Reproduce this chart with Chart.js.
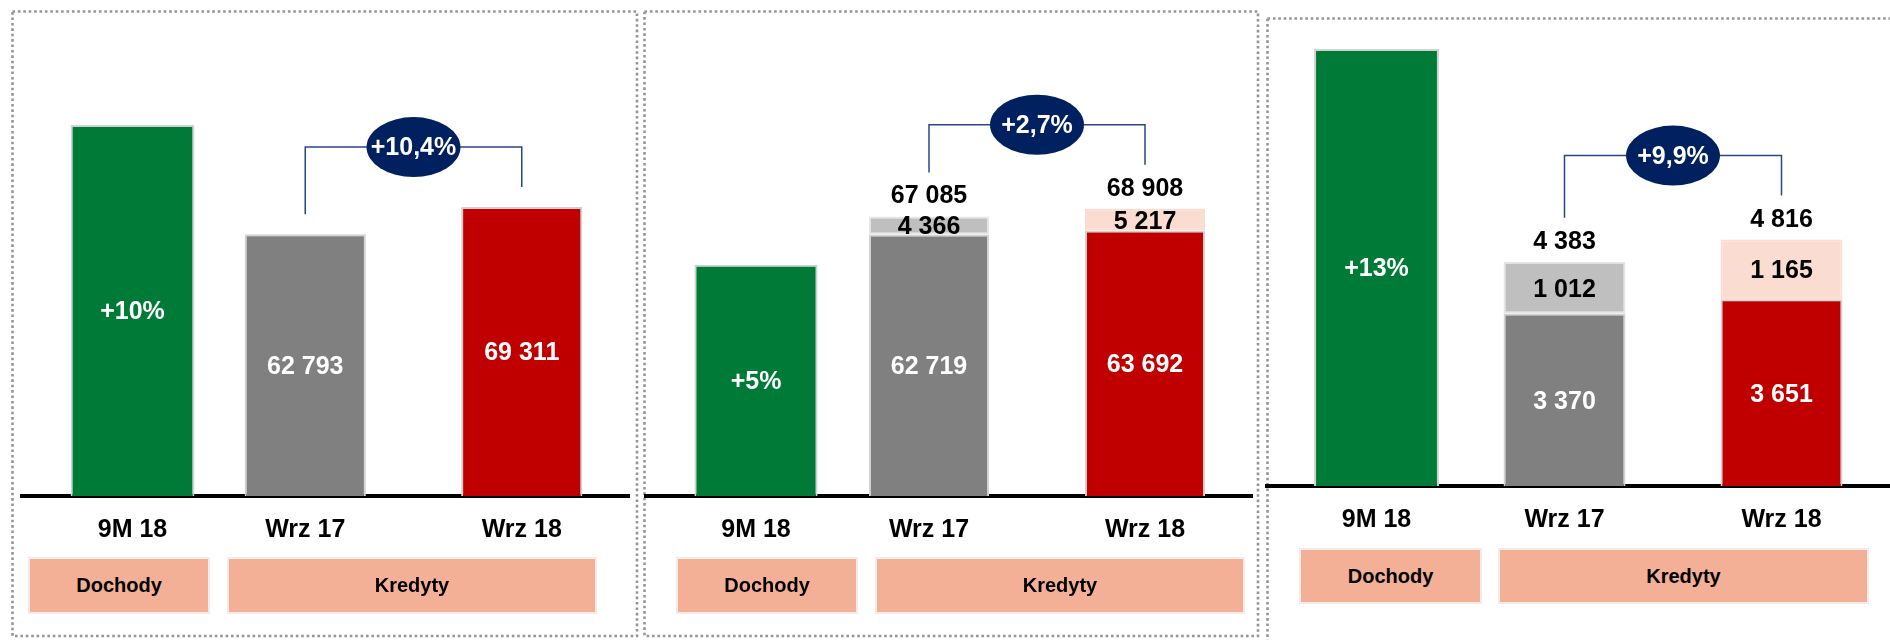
<!DOCTYPE html>
<html>
<head>
<meta charset="utf-8">
<script src="https://cdn.jsdelivr.net/npm/chart.js@4.4.0/dist/chart.umd.min.js"></script>
<style>
body { margin: 0; width: 1890px; height: 640px; position: relative; overflow: hidden; background: #fff;
       font-family: 'Liberation Sans', Arial, sans-serif; }
svg.frames { position: absolute; left: 0; top: 0; }
canvas { position: absolute; top: 0; }
.tag { position: absolute; background: #F4B096; border: 2px solid #f3ebe7; box-sizing: border-box;
       font-weight: bold; font-size: 20px; color: #000; display: flex; align-items: center; justify-content: center; }
</style>
</head>
<body>
<svg class="frames" width="1890" height="640">
  <g fill="none" stroke="#959595" stroke-width="2.6" stroke-dasharray="2.6 2.8">
    <rect x="12.5" y="11.5" width="624.5" height="624.5"/>
    <rect x="644.5" y="11.5" width="613.5" height="624.5"/>
    <rect x="1267.5" y="18.5" width="700" height="700"/>
  </g>
</svg>

<canvas id="a1" width="225" height="640" style="left:20px"></canvas>
<canvas id="b1" width="433" height="640" style="left:197px"></canvas>
<canvas id="a2" width="224" height="640" style="left:644px"></canvas>
<canvas id="b2" width="432" height="640" style="left:821px"></canvas>
<canvas id="a3" width="223" height="640" style="left:1265px"></canvas>
<canvas id="b3" width="434" height="640" style="left:1456px"></canvas>

<div class="tag" style="left:28px;top:557px;width:182px;height:57px">Dochody</div>
<div class="tag" style="left:227px;top:557px;width:370px;height:57px">Kredyty</div>
<div class="tag" style="left:676px;top:557px;width:182px;height:57px">Dochody</div>
<div class="tag" style="left:875px;top:557px;width:370px;height:57px">Kredyty</div>
<div class="tag" style="left:1299px;top:548px;width:183px;height:56px">Dochody</div>
<div class="tag" style="left:1498px;top:548px;width:371px;height:56px">Kredyty</div>

<script>
// categories
const incomeLabels = ['9M 18'];
const loanLabels = ['Wrz 17', 'Wrz 18'];

// panel 1
const p1Income = [89000];
const p1IncomeText = ['+10%'];
const p1Loans = [62793, 69311];
const p1Growth = '+10,4%';

// panel 2
const p2Income = [55500];
const p2IncomeText = ['+5%'];
const p2LoansBase = [62719, 63692];
const p2LoansTop = [4366, 5217];
const p2Totals = [67085, 68908];
const p2Growth = '+2,7%';

// panel 3
const p3Income = [8540];
const p3IncomeText = ['+13%'];
const p3LoansBase = [3370, 3651];
const p3LoansTop = [1012, 1165];
const p3Totals = [4383, 4816];
const p3Growth = '+9,9%';

const FONT = "'Liberation Sans', Arial, sans-serif";
const GREEN = '#007A37', GREY = '#808080', RED = '#C00000';
const LIGHT_GREY = '#BFBFBF', PINK = '#FADCD1', NAVY = '#002060';

const fmt = v => String(v).replace(/\B(?=(\d{3})+(?!\d))/g, ' ');

// value texts, totals and the growth bracket
function textPlugin(extra) {
    return {
        id: 'panelText',
        afterDatasetsDraw(chart) {
            const ctx = chart.ctx;
            ctx.save();
            ctx.font = 'bold 25px ' + FONT;
            ctx.textAlign = 'center';
            ctx.textBaseline = 'middle';
            chart.data.datasets.forEach((ds, di) => {
                chart.getDatasetMeta(di).data.forEach((bar, i) => {
                    const txt = ds.texts ? ds.texts[i] : fmt(ds.data[i]);
                    ctx.fillStyle = ds.textColor;
                    ctx.fillText(txt, bar.x, (bar.y + bar.base) / 2 + 2);
                });
            });
            const tops = chart.getDatasetMeta(chart.data.datasets.length - 1).data;
            if (extra.totals) {
                ctx.fillStyle = '#000';
                tops.forEach((bar, i) => ctx.fillText(fmt(extra.totals[i]), bar.x, bar.y - 20));
            }
            if (extra.growth) {
                const starts = tops.map(b => extra.totals ? b.y - 44 : b.y - 20);
                const h = Math.min(...starts) - 40;
                const x0 = tops[0].x, x1 = tops[1].x;
                ctx.strokeStyle = '#2A4785';
                ctx.lineWidth = 1.5;
                ctx.beginPath();
                ctx.moveTo(x0, starts[0]);
                ctx.lineTo(x0, h);
                ctx.lineTo(x1, h);
                ctx.lineTo(x1, starts[1]);
                ctx.stroke();
                const cx = (x0 + x1) / 2;
                ctx.fillStyle = NAVY;
                ctx.beginPath();
                ctx.ellipse(cx, h, 47, 30, 0, 0, Math.PI * 2);
                ctx.fill();
                ctx.fillStyle = '#fff';
                ctx.fillText(extra.growth, cx, h + 1);
            }
            ctx.restore();
        }
    };
}

function makeChart(id, labels, datasets, yMax, axisH, barPct, extra) {
    return new Chart(document.getElementById(id), {
        type: 'bar',
        data: { labels: labels, datasets: datasets },
        options: {
            responsive: false,
            animation: false,
            layout: { padding: 0 },
            plugins: { legend: { display: false }, tooltip: { enabled: false } },
            datasets: { bar: { categoryPercentage: 1, barPercentage: barPct } },
            scales: {
                x: {
                    stacked: true,
                    grid: { display: false, drawTicks: false },
                    border: { display: true, color: '#000', width: 4 },
                    ticks: { color: '#000', padding: 19, font: { family: FONT, size: 25, weight: 'bold' } },
                    afterFit: s => { s.height = axisH; }
                },
                y: { stacked: true, display: false, min: 0, max: yMax }
            }
        },
        plugins: [textPlugin(extra || {})]
    });
}

function incomeSet(data, texts) {
    return [{ data: data, backgroundColor: GREEN, borderColor: '#d2d2d2', borderWidth: 2,
              texts: texts, textColor: '#fff' }];
}
function baseSet(data) {
    return { data: data, backgroundColor: [GREY, RED], borderColor: '#d2d2d2', borderWidth: 2, textColor: '#fff' };
}
function topSet(data) {
    return { data: data, backgroundColor: [LIGHT_GREY, PINK], borderColor: ['#e6e6e6', PINK], borderWidth: 2,
             borderSkipped: false, textColor: '#000' };
}

makeChart('a1', incomeLabels, incomeSet(p1Income, p1IncomeText), 119000, 144, 0.55);
makeChart('b1', loanLabels, [baseSet(p1Loans)], 119000, 144, 0.56, { growth: p1Growth });

makeChart('a2', incomeLabels, incomeSet(p2Income, p2IncomeText), 119000, 144, 0.55);
makeChart('b2', loanLabels, [baseSet(p2LoansBase), topSet(p2LoansTop)], 119000, 144, 0.556,
          { totals: p2Totals, growth: p2Growth });

makeChart('a3', incomeLabels, incomeSet(p3Income, p3IncomeText), 9500, 154, 0.56);
makeChart('b3', loanLabels, [baseSet(p3LoansBase), topSet(p3LoansTop)], 9500, 154, 0.562,
          { totals: p3Totals, growth: p3Growth });
</script>
</body>
</html>
